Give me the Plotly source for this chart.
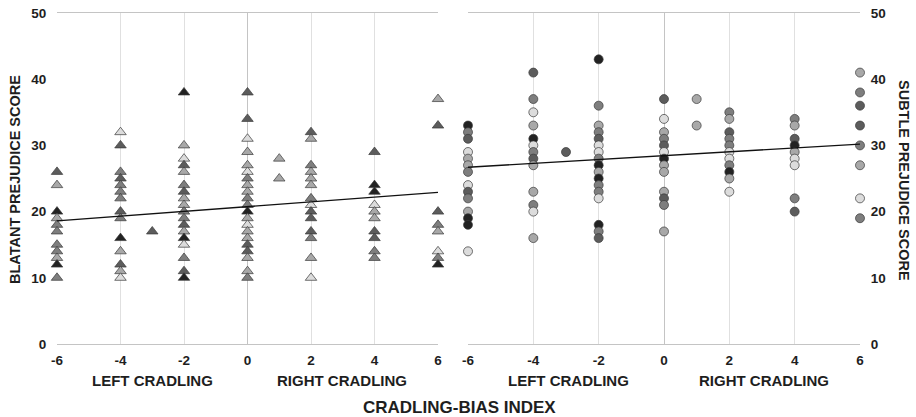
import plotly.graph_objects as go

# ---------------- data ----------------
# group code: 1 = darkest ... 5 = lightest
blatant_x = (
    [-6] * 11 + [-4] * 14 + [-3] + [-2] * 18 + [0] * 21 + [1] * 2 + [2] * 14 + [4] * 10 + [6] * 8
)
blatant_y = (
    [26, 24, 20, 19, 18, 17, 15, 14, 13, 12, 10]
    + [32, 30, 26, 25, 24, 23, 22, 20, 19, 16, 14, 12, 11, 10]
    + [17]
    + [38, 30, 28, 27, 26, 24, 23, 22, 21, 20, 19, 18, 17, 16, 15, 13, 11, 10]
    + [38, 34, 31, 29, 27, 26, 25, 24, 23, 22, 21, 20, 19, 18, 17, 16, 15, 14, 13, 11, 10]
    + [28, 25]
    + [32, 31, 27, 26, 25, 24, 22, 21, 20, 19, 17, 16, 13, 10]
    + [29, 24, 23, 21, 20, 19, 17, 16, 14, 13]
    + [37, 33, 20, 18, 17, 14, 13, 12]
)
blatant_group = (
    [2, 4, 1, 4, 3, 3, 3, 3, 4, 1, 3]
    + [5, 2, 3, 2, 3, 3, 3, 2, 3, 1, 4, 2, 4, 5]
    + [2]
    + [1, 4, 5, 2, 4, 3, 2, 4, 4, 3, 3, 2, 4, 1, 5, 3, 2, 1]
    + [2, 2, 5, 4, 4, 5, 3, 4, 4, 3, 3, 1, 4, 5, 4, 4, 2, 2, 4, 4, 3]
    + [4, 4]
    + [2, 4, 3, 4, 4, 4, 3, 5, 2, 2, 2, 3, 4, 5]
    + [2, 1, 1, 5, 4, 4, 2, 2, 3, 3]
    + [4, 2, 2, 3, 4, 5, 3, 1]
)

subtle_x = (
    [-6] * 14 + [-4] * 13 + [-3] + [-2] * 17 + [0] * 13 + [1] * 2 + [2] * 11 + [4] * 9 + [6] * 8
)
subtle_y = (
    [33, 32, 31, 29, 28, 27, 26, 24, 23, 22, 20, 19, 18, 14]
    + [41, 37, 35, 33, 31, 30, 29, 28, 27, 23, 21, 20, 16]
    + [29]
    + [43, 36, 33, 32, 31, 30, 29, 28, 27, 26, 25, 24, 23, 22, 18, 17, 16]
    + [37, 34, 32, 31, 30, 29, 28, 27, 26, 23, 22, 21, 17]
    + [37, 33]
    + [35, 34, 32, 31, 30, 29, 28, 27, 26, 25, 23]
    + [34, 33, 31, 30, 29, 28, 27, 22, 20]
    + [41, 38, 36, 33, 30, 27, 22, 19]
)
subtle_group = (
    [1, 3, 2, 5, 4, 4, 3, 5, 2, 3, 4, 1, 1, 5]
    + [2, 3, 5, 4, 1, 5, 3, 2, 4, 4, 3, 5, 4]
    + [2]
    + [1, 3, 4, 3, 2, 5, 5, 3, 1, 4, 1, 3, 3, 5, 1, 3, 2]
    + [2, 5, 4, 3, 2, 5, 1, 4, 4, 4, 2, 3, 4]
    + [4, 4]
    + [3, 4, 2, 3, 3, 5, 5, 3, 1, 4, 5]
    + [3, 4, 2, 1, 4, 5, 5, 3, 2]
    + [4, 3, 2, 2, 3, 4, 5, 3]
)

fit_x = [-6, 6]
blatant_fit = [18.6, 22.9]
subtle_fit = [26.7, 30.2]

x_ticks = [-6, -4, -2, 0, 2, 4, 6]
y_ticks = [0, 10, 20, 30, 40, 50]

# ---------------- styles ----------------
SHADES = {1: "#222222", 2: "#5c5c5c", 3: "#7e7e7e", 4: "#a8a8a8", 5: "#dcdcdc"}
FONT = "Liberation Sans, Arial, sans-serif"
TXT = "#1e1e1e"

fig = go.Figure()

fig.add_trace(go.Scatter(
    x=blatant_x, y=blatant_y, mode="markers", cliponaxis=False,
    marker=dict(symbol="triangle-up", size=10,
                color=[SHADES[g] for g in blatant_group],
                line=dict(color="#3a3a3a", width=0.7)),
    xaxis="x", yaxis="y", showlegend=False, hoverinfo="x+y"))
fig.add_trace(go.Scatter(
    x=fit_x, y=blatant_fit, mode="lines",
    line=dict(color="#111111", width=1.3),
    xaxis="x", yaxis="y", showlegend=False))

fig.add_trace(go.Scatter(
    x=subtle_x, y=subtle_y, mode="markers", cliponaxis=False,
    marker=dict(symbol="circle", size=9,
                color=[SHADES[g] for g in subtle_group],
                line=dict(color="#3a3a3a", width=0.7)),
    xaxis="x2", yaxis="y2", showlegend=False, hoverinfo="x+y"))
fig.add_trace(go.Scatter(
    x=fit_x, y=subtle_fit, mode="lines",
    line=dict(color="#111111", width=1.3),
    xaxis="x2", yaxis="y2", showlegend=False))

W, H = 916, 417
ydom = [1 - 344 / H, 1 - 13 / H]

xcommon = dict(
    range=[-6, 6], tickvals=x_ticks, ticktext=[str(v) for v in x_ticks],
    showgrid=True, gridcolor="#e0e0e0", gridwidth=1,
    zeroline=True, zerolinecolor="#c4c4c4", zerolinewidth=1,
    showline=True, linecolor="#c4c4c4", linewidth=1, mirror=True,
    ticks="outside", ticklen=4, tickcolor="rgba(0,0,0,0)",
    tickfont=dict(family=FONT, size=13.5, color=TXT, weight="bold"),
    fixedrange=True, automargin=False,
)
ycommon = dict(
    range=[0, 50], tickvals=y_ticks, showgrid=False, zeroline=False,
    ticks="outside", ticklen=7, tickcolor="rgba(0,0,0,0)",
    tickfont=dict(family=FONT, size=13.5, color=TXT, weight="bold"),
    fixedrange=True, domain=ydom, automargin=False,
)

fig.update_layout(
    width=W, height=H,
    margin=dict(l=0, r=0, t=0, b=0, pad=0, autoexpand=False),
    paper_bgcolor="white", plot_bgcolor="white",
    xaxis=dict(domain=[57 / W, 438 / W], anchor="y", **xcommon),
    yaxis=dict(anchor="x", side="left", **ycommon),
    xaxis2=dict(domain=[468 / W, 860 / W], anchor="y2", **xcommon),
    yaxis2=dict(anchor="x2", side="right", **ycommon),
)

def ann(text, x, y, size, angle=0):
    fig.add_annotation(text=text, x=x / W, y=1 - y / H, xref="paper", yref="paper",
                       showarrow=False, textangle=angle, xanchor="center", yanchor="middle",
                       font=dict(family=FONT, size=size, color=TXT, weight="bold"))

ann("BLATANT PREJUDICE SCORE", 15, 180, 14.5, -90)
ann("SUBTLE PREJUDICE SCORE", 904, 180, 14.5, 90)
ann("LEFT CRADLING", 152, 380, 15)
ann("RIGHT CRADLING", 342, 380, 15)
ann("LEFT CRADLING", 568, 380, 15)
ann("RIGHT CRADLING", 764, 380, 15)
ann("CRADLING-BIAS INDEX", 459, 407, 17)

fig.write_html(
    "out.html",
    config={"displayModeBar": False},
    post_script="document.body.style.margin='0';document.body.style.overflow='hidden';",
)
